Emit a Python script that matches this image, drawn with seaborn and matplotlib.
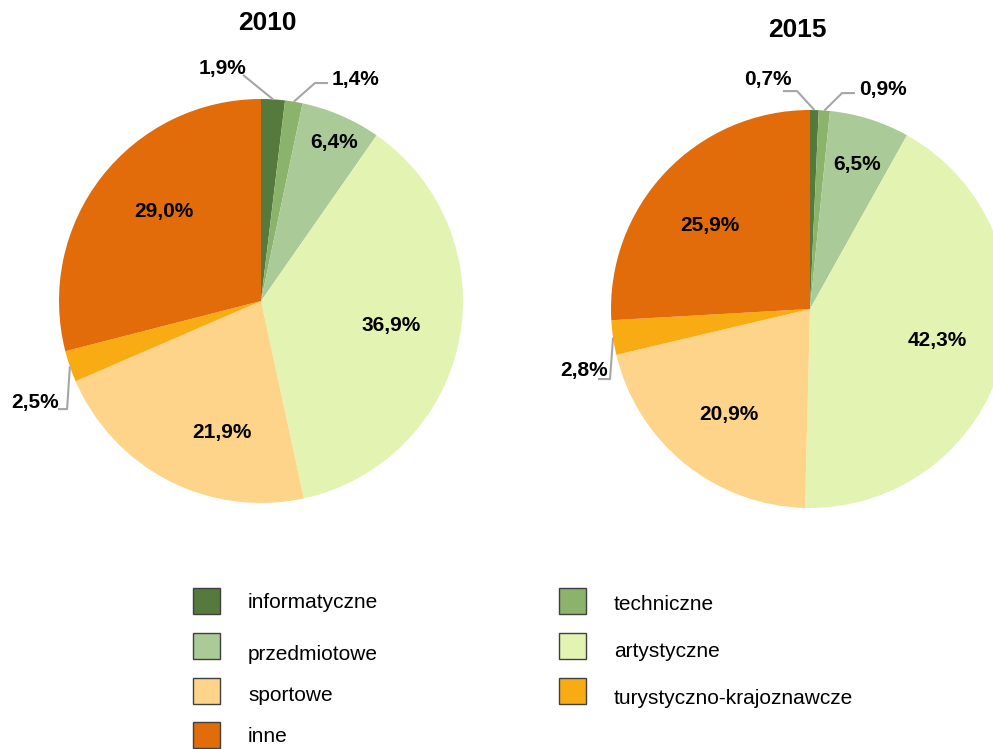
import matplotlib
matplotlib.use("Agg")
import numpy as np
import pandas as pd
import seaborn as sns
import matplotlib.pyplot as plt
from matplotlib.patches import Rectangle

# ---------------- data ----------------
categories = ["informatyczne", "techniczne", "przedmiotowe", "artystyczne",
              "sportowe", "turystyczno-krajoznawcze", "inne"]
values_2010 = [1.9, 1.4, 6.4, 36.9, 21.9, 2.5, 29.0]
values_2015 = [0.7, 0.9, 6.5, 42.3, 20.9, 2.8, 25.9]
years = ["2010", "2015"]
colors = ["#567A3D", "#8CB36C", "#AACA98", "#E3F3B2",
          "#FDD48A", "#F9AB14", "#E26C0A"]

# ---------------- layout (pixels / pie units) ----------------
W, H = 993, 749
pie_geom = {"2010": (261, 301, 202), "2015": (810, 309, 199)}
title_pos = {"2010": (267, 23), "2015": (797.5, 30)}
# label layout per wedge: (text_x, text_y, leader_points or None)
label_layout = {
    "2010": [
        (-0.193, 1.149, [(-0.089, 1.119)]),
        (0.470, 1.099, [(0.332, 1.079), (0.267, 1.079)]),
        (0.364, 0.785, None),
        (0.646, -0.121, None),
        (-0.193, -0.653, None),
        (-1.119, -0.502, [(-1.005, -0.535), (-0.960, -0.535)]),
        (-0.480, 0.441, None),
    ],
    "2015": [
        (-0.211, 1.151, [(-0.136, 1.095), (-0.065, 1.095)]),
        (0.367, 1.101, [(0.226, 1.085), (0.161, 1.085)]),
        (0.236, 0.724, None),
        (0.638, -0.156, None),
        (-0.407, -0.528, None),
        (-1.136, -0.307, [(-1.065, -0.352), (-1.005, -0.352)]),
        (-0.503, 0.422, None),
    ],
}
legend_text_dy = [1, 4, 9, 6, 5, 7.5, 1.5]

sns.set_theme(style="white")
plt.rcParams['font.family'] = ['Liberation Sans', 'DejaVu Sans']

df = pd.DataFrame({"kategoria": categories, "2010": values_2010, "2015": values_2015})
palette = sns.color_palette(colors)

fig = plt.figure(figsize=(W / 100, H / 100), dpi=100)
fig.patch.set_facecolor("white")


def fmt(v):
    return f"{v:.1f}".replace(".", ",") + "%"


for yr in years:
    cx, cy, r = pie_geom[yr]
    ax = fig.add_axes([(cx - r) / W, (H - cy - r) / H, 2 * r / W, 2 * r / H])
    wedges, _ = ax.pie(df[yr], colors=palette, startangle=90, counterclock=False,
                       radius=1, wedgeprops=dict(linewidth=0))
    ax.set_xlim(-1, 1)
    ax.set_ylim(-1, 1)
    ax.axis("off")
    for w, v, (tx, ty, pts) in zip(wedges, df[yr], label_layout[yr]):
        ax.text(tx, ty, fmt(v), ha="center", va="center", fontsize=15,
                fontweight="bold", color="black", clip_on=False, zorder=5)
        if pts is not None:
            mid = np.deg2rad((w.theta1 + w.theta2) / 2)
            xs = [p[0] for p in pts] + [np.cos(mid)]
            ys = [p[1] for p in pts] + [np.sin(mid)]
            ax.plot(xs, ys, color="#A6A6A6", lw=1.5, clip_on=False, zorder=4,
                    solid_capstyle="butt")
    tx, ty = title_pos[yr]
    fig.text(tx / W, 1 - ty / H, yr, ha="center", va="center",
             fontsize=19, fontweight="bold", color="black")

# ---------------- legend ----------------
col_x = [193, 559]
row_top0, row_pitch = 588, 44.8
pw, ph = 27, 26
for k, (cat, c) in enumerate(zip(categories, colors)):
    row, col = k // 2, k % 2
    x0 = col_x[col]
    yt = row_top0 + row_pitch * row
    fig.add_artist(Rectangle((x0 / W, 1 - (yt + ph) / H), pw / W, ph / H,
                             transform=fig.transFigure, facecolor=c,
                             edgecolor="#404040", lw=1.0))
    fig.text((x0 + 55) / W, 1 - (yt + ph / 2 + legend_text_dy[k]) / H, cat,
             ha="left", va="center", fontsize=15, color="black")

fig.savefig("out.png", dpi=100, facecolor="white")
